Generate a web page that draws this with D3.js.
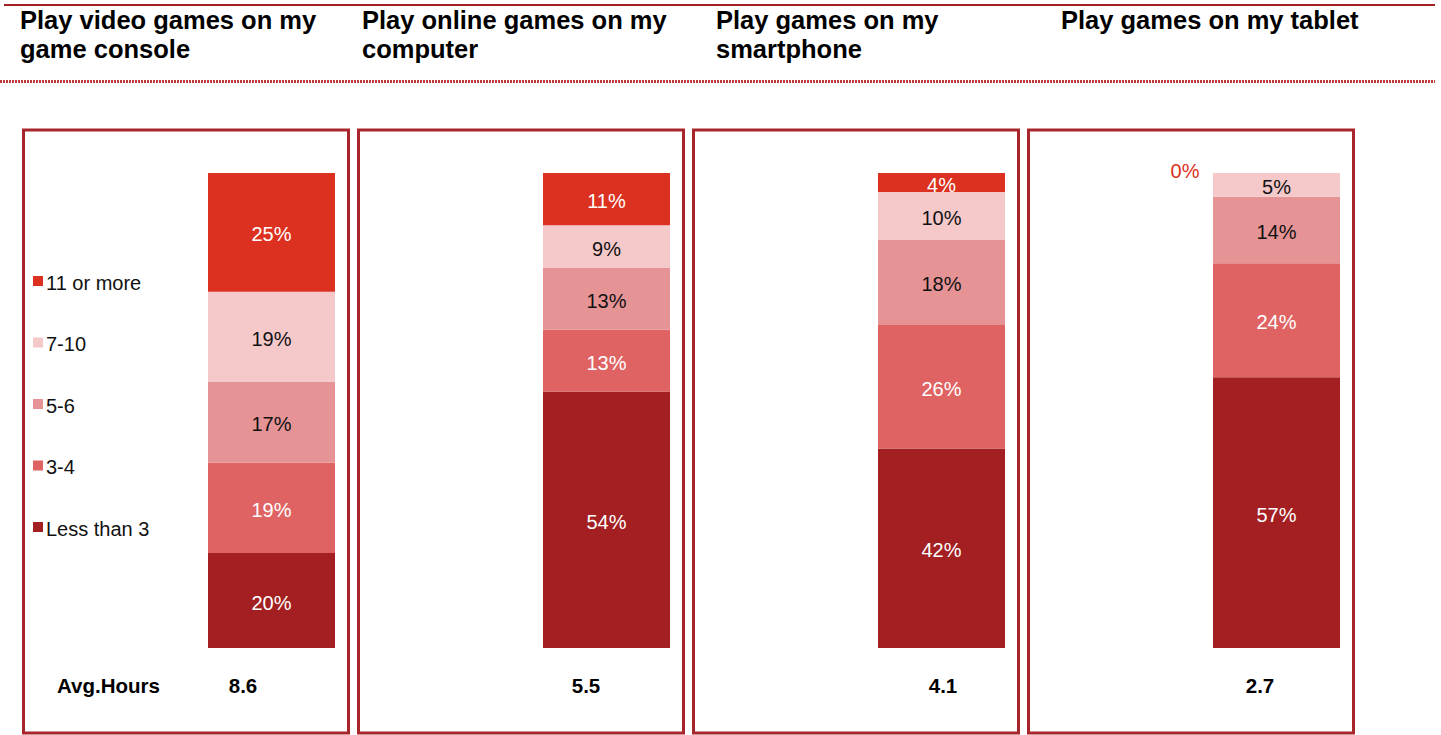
<!DOCTYPE html>
<html>
<head>
<meta charset="utf-8">
<script src="https://cdn.jsdelivr.net/npm/d3@7"></script>
<style>
  html, body { margin: 0; padding: 0; background: #fff; }
  svg { display: block; font-family: "Liberation Sans", Arial, sans-serif; }
</style>
</head>
<body>
<svg id="chart" width="1441" height="735"></svg>
<script>
// Devices (one panel each) and their title lines
const devices = ["console", "computer", "smartphone", "tablet"];
const titles = [
  ["Play video games on my", "game console"],
  ["Play online games on my", "computer"],
  ["Play games on my", "smartphone"],
  ["Play games on my tablet"]
];

// Weekly hours bands, bottom to top
const bands = ["Less than 3", "3-4", "5-6", "7-10", "11 or more"];

// Share of players (%) per band, one array per band, in device order
const lessThan3 = [20, 54, 42, 57];
const h3to4     = [19, 13, 26, 24];
const h5to6     = [17, 13, 18, 14];
const h7to10    = [19, 9, 10, 5];
const h11plus   = [25, 11, 4, 0];

// Average hours per week
const avgHours = ["8.6", "5.5", "4.1", "2.7"];

const series = [lessThan3, h3to4, h5to6, h7to10, h11plus];
const colors = ["#a31f21", "#df6363", "#e69395", "#f5c8c9", "#dc3120"];
const labelColors = ["#ffffff", "#ffffff", "#111111", "#111111", "#ffffff"];

// Layout
const titleOffsets = [-2, 5, 24, 34];
const avgOffsets = [221, 229, 251, 233];

const svg = d3.select("#chart");

// Rows of stacked data: one object per device
const rows = devices.map((d, i) => {
  const r = { device: d };
  bands.forEach((b, j) => { r[b] = series[j][i]; });
  return r;
});
const stacked = d3.stack().keys(bands)(rows);

const panelX = d3.scaleBand().domain(devices).range([22, 1355]).paddingInner(7 / 335).paddingOuter(0);
const y = d3.scaleLinear().domain([0, 100]).range([648, 173]);
const barOffset = 186, barWidth = 127;

// Header rules
svg.append("line").attr("x1", 4).attr("x2", 1435).attr("y1", 5).attr("y2", 5)
  .attr("stroke", "#a52024").attr("stroke-width", 2.2);
svg.append("line").attr("x1", 0).attr("x2", 1435).attr("y1", 81.5).attr("y2", 81.5)
  .attr("stroke", "#c0393b").attr("stroke-width", 3).attr("stroke-dasharray", "2,1");

// Titles
devices.forEach((d, i) => {
  const t = svg.append("text")
    .attr("x", panelX(d) + titleOffsets[i]).attr("y", 29)
    .attr("font-size", 25.5).attr("font-weight", "bold").attr("fill", "#000");
  titles[i].forEach((line, k) => {
    t.append("tspan").attr("x", panelX(d) + titleOffsets[i]).attr("dy", k === 0 ? 0 : 29).text(line);
  });
});

// Panel frames
svg.selectAll("rect.frame").data(devices).join("rect")
  .attr("class", "frame")
  .attr("x", d => panelX(d) + 1.5).attr("y", 130)
  .attr("width", panelX.bandwidth() - 3).attr("height", 603)
  .attr("fill", "none").attr("stroke", "#a8262b").attr("stroke-width", 3);

// Stacked bars
const layer = svg.selectAll("g.layer").data(stacked).join("g")
  .attr("class", "layer")
  .attr("fill", (s, i) => colors[i]);

layer.selectAll("rect").data(s => s).join("rect")
  .attr("x", d => panelX(d.data.device) + barOffset)
  .attr("width", barWidth)
  .attr("y", d => y(d[1]))
  .attr("height", d => y(d[0]) - y(d[1]));

// Segment labels
stacked.forEach((s, i) => {
  s.forEach(d => {
    const v = d[1] - d[0];
    const x0 = panelX(d.data.device) + barOffset;
    if (v > 0) {
      svg.append("text")
        .attr("x", x0 + barWidth / 2)
        .attr("y", (y(d[0]) + y(d[1])) / 2 + 2)
        .attr("text-anchor", "middle").attr("dominant-baseline", "central")
        .attr("font-size", 20).attr("fill", labelColors[i])
        .text(v + "%");
    } else {
      svg.append("text")
        .attr("x", x0 - 28)
        .attr("y", y(d[1]) - 2)
        .attr("text-anchor", "middle").attr("dominant-baseline", "central")
        .attr("font-size", 20).attr("fill", colors[i])
        .text(v + "%");
    }
  });
});

// Legend (top band first)
const legendY = d3.scalePoint().domain(bands.slice().reverse()).range([281, 527]);
const legend = svg.selectAll("g.legend").data(bands.slice().reverse()).join("g")
  .attr("class", "legend")
  .attr("transform", b => `translate(33,${legendY(b)})`);
legend.append("rect").attr("x", 0).attr("y", -5).attr("width", 10).attr("height", 10)
  .attr("fill", b => colors[bands.indexOf(b)]);
legend.append("text").attr("x", 13).attr("y", 1.5).attr("dominant-baseline", "central")
  .attr("font-size", 20).attr("fill", "#111").text(b => b);

// Average hours row
svg.append("text").attr("x", 57).attr("y", 693)
  .attr("font-size", 20.5).attr("font-weight", "bold").attr("fill", "#000").text("Avg.Hours");
svg.selectAll("text.avg").data(devices).join("text")
  .attr("class", "avg")
  .attr("x", (d, i) => panelX(d) + avgOffsets[i]).attr("y", 693)
  .attr("text-anchor", "middle")
  .attr("font-size", 20.5).attr("font-weight", "bold").attr("fill", "#000")
  .text((d, i) => avgHours[i]);
</script>
</body>
</html>
